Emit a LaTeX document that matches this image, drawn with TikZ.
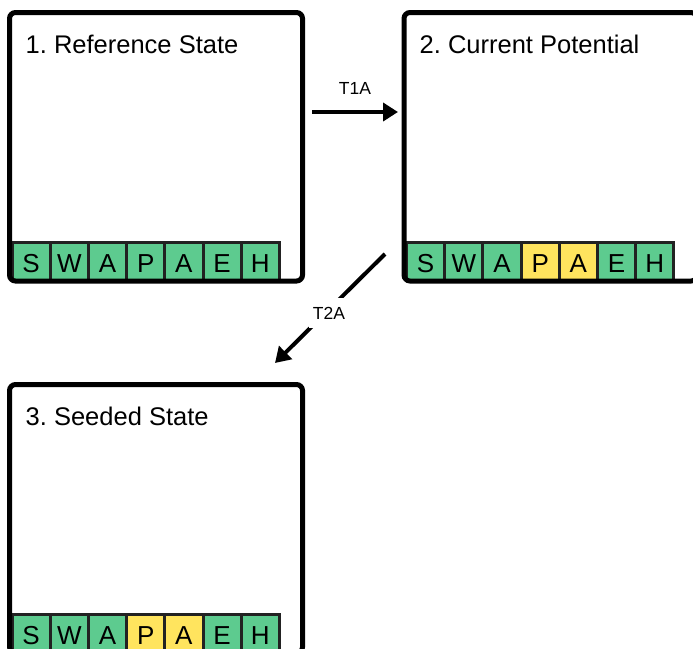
\documentclass[tikz,border=0pt]{standalone}
\usepackage{fontspec}
\setmainfont{Liberation Sans}
\usetikzlibrary{arrows.meta}
\definecolor{cgreen}{HTML}{5DCB8F}
\definecolor{cyellow}{HTML}{FFE45E}
\definecolor{cborder}{HTML}{222222}
\frenchspacing
\begin{document}
\begin{tikzpicture}[x=1pt,y=-1pt,
  panel/.style={draw=black, line width=5pt, rounded corners=6pt, minimum width=293pt, minimum height=268.5pt, inner sep=0pt, outer sep=0pt, anchor=north west},
  title/.style={anchor=base west, font=\fontsize{25.5}{30}\selectfont, inner sep=0pt},
  cell/.style={draw=cborder, line width=3pt, minimum width=38.2pt, minimum height=37.5pt, inner sep=0pt, outer sep=0pt, anchor=north west, text height=23pt, text depth=0pt, font=\fontsize{26}{30}\selectfont},
  arr/.style={line width=4pt, -{Triangle[length=15pt,width=18pt]}},
  lab/.style={font=\fontsize{17.5}{21}\selectfont, fill=white, inner xsep=4pt, inner ysep=9pt}]
\useasboundingbox (0,0) rectangle (693,648);
\clip (0,0) rectangle (693,648);
% cells
\foreach \L [count=\i] in {S,W,A,P,A,E,H}{
  \node[cell, fill=cgreen] (a\i) at ({12+(\i-1)*38.2},242.5) {\L};
}
\foreach \L/\c [count=\i] in {S/cgreen,W/cgreen,A/cgreen,P/cyellow,A/cyellow,E/cgreen,H/cgreen}{
  \node[cell, fill=\c] (b\i) at ({406.5+(\i-1)*38.2},242.5) {\L};
  \node[cell, fill=\c] (c\i) at ({12+(\i-1)*38.2},614.5) {\L};
}
% panels
\node[panel] (p1) at (9.5,12.5) {};
\node[panel] (p2) at (404,12.5) {};
\node[panel] (p3) at (9.5,384.5) {};
\node[title] (t1) at (25.5,53.5) {1. Reference State};
\node[title] (t2) at (419.5,53.5) {2. Current Potential};
\node[title] (t3) at (25.5,425.5) {3. Seeded State};
% connectors
\coordinate (s1) at (312,112);
\coordinate (e1) at (398,112);
\coordinate (s2) at (385,254);
\coordinate (e2) at (275,363);
\draw[arr] (s1) -- (e1);
\node[font=\fontsize{17.5}{21}\selectfont] (l1) at (355,88) {T1A};
\draw[arr] (s2) -- (e2);
\node[lab] (l2) at (329,313) {T2A};
\end{tikzpicture}
\end{document}
